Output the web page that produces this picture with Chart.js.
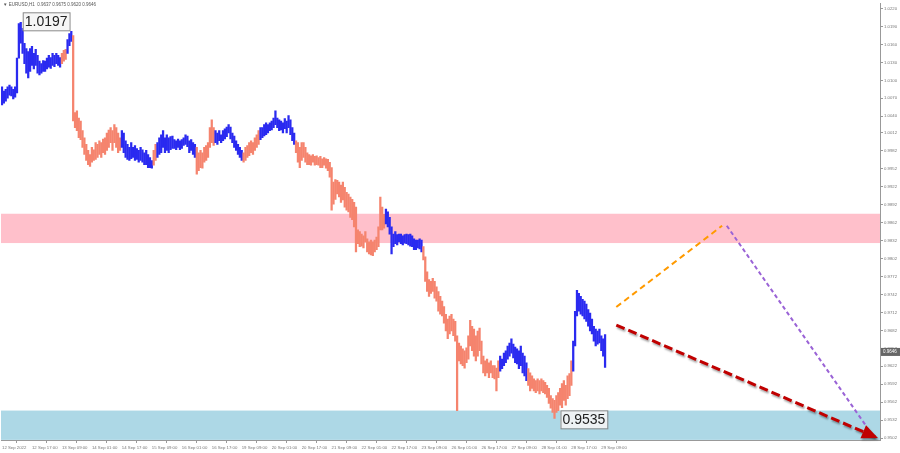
<!DOCTYPE html>
<html>
<head>
<meta charset="utf-8">
<script src="https://cdn.jsdelivr.net/npm/chart.js@4"></script>
<style>
  html, body { margin: 0; background: #fff; }
  #wrap { width: 900px; height: 453px; }
</style>
</head>
<body>
<div id="wrap"><canvas id="chart"></canvas></div>
<script>
// EURUSD H1, 12 Sep 2022 01:00 .. 29 Sep 2022 11:00 (one entry per hour bar)
const barHigh = [
  1.0089,1.0082,1.0085,1.0089,1.0092,1.0089,1.0085,1.0089,1.0137,1.0195,1.0197,1.0187,1.0162,1.0153,1.0148,1.0153,
  1.0157,1.0145,1.0152,1.0142,1.0132,1.0128,1.0133,1.0132,1.0137,1.0142,1.0138,1.0145,1.0142,1.0145,1.0142,1.0138,
  1.0145,1.0150,1.0152,1.0168,1.0178,1.0182,1.0175,1.0046,1.0049,1.0037,1.0032,1.0016,1.0004,0.9993,0.9983,0.9976,
  0.9988,0.9984,0.9996,0.9993,0.9999,0.9996,1.0002,1.0004,1.0012,1.0017,1.0021,1.0016,1.0026,1.0021,1.0012,1.0004,
  1.0016,1.0012,0.9999,0.9993,0.9988,0.9996,0.9988,0.9991,0.9986,0.9983,0.9988,0.9984,0.9979,0.9983,0.9976,0.9971,
  0.9966,0.9983,0.9993,0.9996,1.0004,1.0009,1.0016,1.0004,1.0009,1.0004,1.0006,1.0007,1.0001,0.9999,1.0002,0.9999,
  1.0001,1.0004,1.0009,1.0007,0.9999,1.0001,0.9996,0.9993,0.9988,0.9979,0.9983,0.9979,0.9988,0.9991,0.9996,1.0021,
  1.0034,1.0021,1.0016,1.0012,1.0016,1.0009,1.0016,1.0019,1.0022,1.0026,1.0022,1.0012,1.0007,0.9999,0.9993,0.9988,
  0.9983,0.9979,0.9988,0.9991,0.9996,0.9999,0.9996,1.0004,1.0009,1.0016,1.0021,1.0021,1.0026,1.0029,1.0026,1.0029,
  1.0032,1.0037,1.0049,1.0037,1.0034,1.0032,1.0029,1.0036,1.0032,1.0041,1.0034,1.0021,1.0012,0.9999,0.9996,0.9988,
  0.9996,0.9996,0.9988,0.9979,0.9976,0.9974,0.9976,0.9973,0.9974,0.9971,0.9973,0.9969,0.9971,0.9969,0.9968,0.9963,
  0.9954,0.9930,0.9934,0.9933,0.9930,0.9925,0.9930,0.9921,0.9913,0.9910,0.9905,0.9901,0.9896,0.9888,0.9850,0.9847,
  0.9843,0.9840,0.9847,0.9835,0.9830,0.9833,0.9830,0.9833,0.9838,0.9855,0.9905,0.9888,0.9876,0.9885,0.9880,0.9871,
  0.9855,0.9843,0.9847,0.9842,0.9843,0.9843,0.9840,0.9842,0.9843,0.9842,0.9843,0.9840,0.9835,0.9833,0.9833,0.9835,
  0.9833,0.9822,0.9805,0.9780,0.9767,0.9764,0.9769,0.9764,0.9755,0.9747,0.9739,0.9731,0.9722,0.9709,0.9701,0.9706,
  0.9709,0.9701,0.9697,0.9673,0.9661,0.9656,0.9651,0.9648,0.9653,0.9673,0.9699,0.9689,0.9684,0.9673,0.9681,0.9686,
  0.9664,0.9639,0.9631,0.9634,0.9628,0.9631,0.9623,0.9623,0.9619,0.9631,0.9639,0.9634,0.9644,0.9648,0.9656,0.9661,
  0.9668,0.9659,0.9654,0.9651,0.9648,0.9656,0.9644,0.9639,0.9628,0.9618,0.9611,0.9606,0.9601,0.9598,0.9601,0.9598,
  0.9601,0.9598,0.9595,0.9590,0.9585,0.9573,0.9568,0.9565,0.9573,0.9578,0.9585,0.9593,0.9598,0.9590,0.9606,0.9610,
  0.9631,0.9664,0.9714,0.9749,0.9744,0.9739,0.9734,0.9731,0.9726,0.9717,0.9711,0.9701,0.9689,0.9684,0.9681,0.9684,
  0.9673,0.9668,0.9675
];
const barLow = [
  1.0059,1.0062,1.0065,1.0070,1.0075,1.0074,1.0069,1.0072,1.0079,1.0137,1.0162,1.0145,1.0128,1.0112,1.0104,1.0115,
  1.0125,1.0119,1.0125,1.0112,1.0109,1.0112,1.0115,1.0115,1.0119,1.0122,1.0120,1.0125,1.0123,1.0128,1.0125,1.0122,
  1.0128,1.0132,1.0135,1.0145,1.0158,1.0165,1.0032,1.0021,1.0016,1.0004,1.0001,0.9988,0.9976,0.9966,0.9959,0.9956,
  0.9963,0.9966,0.9968,0.9971,0.9976,0.9971,0.9979,0.9976,0.9983,0.9988,0.9996,0.9983,0.9996,0.9988,0.9979,0.9983,
  0.9988,0.9979,0.9971,0.9968,0.9966,0.9969,0.9971,0.9966,0.9968,0.9963,0.9966,0.9963,0.9959,0.9959,0.9954,0.9954,
  0.9953,0.9958,0.9966,0.9971,0.9976,0.9979,0.9988,0.9979,0.9983,0.9979,0.9984,0.9986,0.9986,0.9984,0.9988,0.9984,
  0.9986,0.9991,0.9993,0.9989,0.9979,0.9983,0.9976,0.9971,0.9943,0.9949,0.9954,0.9953,0.9963,0.9966,0.9971,0.9988,
  0.9996,0.9991,0.9996,0.9993,0.9999,0.9996,0.9999,1.0002,1.0006,1.0012,1.0002,0.9996,0.9988,0.9983,0.9976,0.9971,
  0.9966,0.9963,0.9966,0.9971,0.9974,0.9979,0.9976,0.9983,0.9988,0.9993,1.0001,1.0004,1.0007,1.0009,1.0012,1.0016,
  1.0017,1.0021,1.0026,1.0021,1.0016,1.0017,1.0012,1.0019,1.0012,1.0021,1.0009,0.9999,0.9993,0.9979,0.9963,0.9954,
  0.9966,0.9971,0.9963,0.9959,0.9959,0.9958,0.9963,0.9958,0.9959,0.9958,0.9954,0.9954,0.9958,0.9953,0.9949,0.9938,
  0.9883,0.9893,0.9901,0.9910,0.9905,0.9896,0.9900,0.9888,0.9883,0.9880,0.9871,0.9867,0.9855,0.9813,0.9827,0.9822,
  0.9823,0.9820,0.9830,0.9813,0.9810,0.9808,0.9807,0.9813,0.9817,0.9822,0.9850,0.9850,0.9853,0.9860,0.9855,0.9843,
  0.9810,0.9822,0.9827,0.9825,0.9830,0.9827,0.9825,0.9828,0.9827,0.9825,0.9823,0.9822,0.9817,0.9817,0.9820,0.9818,
  0.9813,0.9800,0.9764,0.9747,0.9739,0.9744,0.9747,0.9736,0.9731,0.9714,0.9709,0.9706,0.9694,0.9681,0.9668,0.9676,
  0.9681,0.9673,0.9664,0.9548,0.9631,0.9626,0.9623,0.9619,0.9628,0.9634,0.9656,0.9648,0.9639,0.9631,0.9639,0.9648,
  0.9626,0.9611,0.9606,0.9611,0.9603,0.9611,0.9603,0.9601,0.9581,0.9603,0.9614,0.9618,0.9623,0.9628,0.9634,0.9639,
  0.9644,0.9636,0.9628,0.9626,0.9618,0.9623,0.9611,0.9606,0.9598,0.9590,0.9581,0.9585,0.9581,0.9578,0.9581,0.9576,
  0.9581,0.9578,0.9576,0.9570,0.9560,0.9552,0.9545,0.9535,0.9545,0.9548,0.9557,0.9553,0.9565,0.9557,0.9568,0.9573,
  0.9590,0.9614,0.9656,0.9706,0.9714,0.9709,0.9706,0.9701,0.9697,0.9689,0.9681,0.9676,0.9664,0.9656,0.9659,0.9661,
  0.9648,0.9639,0.9620
];

// wave segments: bar index where each wave starts, alternating up / down
const waveStarts = [0, 32, 35, 38, 64, 81, 83, 104, 114, 129, 138, 157, 205, 225, 266, 281, 305];

// last bar: open, high, low, close
const lastBar = [0.9637, 0.9675, 0.9620, 0.9646];

// zones
const resistZone = [0.9828, 0.9877];
const supportZone = [0.9499, 0.9548];

// forecast paths (bar index, price)
const upPathX = [328, 384.5];
const upPathY = [0.9721, 0.9857];
const downPathX = [387, 460.8];
const downPathY = [0.9857, 0.9525];
const mainPathX = [328, 467.7];
const mainPathY = [0.9691, 0.9502];

// axis labels
const timeLabels = ['12 Sep 2022', '12 Sep 17:00', '13 Sep 09:00', '14 Sep 01:00', '14 Sep 17:00', '15 Sep 09:00',
  '16 Sep 01:00', '16 Sep 17:00', '19 Sep 09:00', '20 Sep 01:00', '20 Sep 17:00', '21 Sep 09:00', '22 Sep 01:00',
  '22 Sep 17:00', '23 Sep 09:00', '26 Sep 01:00', '26 Sep 17:00', '27 Sep 09:00', '28 Sep 01:00', '28 Sep 17:00',
  '29 Sep 09:00'];
const labelStep = 16;
const priceTicks = [1.0220, 1.0190, 1.0160, 1.0130, 1.0100, 1.0070, 1.0040, 1.0012, 0.9982, 0.9952, 0.9922, 0.9892,
  0.9862, 0.9832, 0.9802, 0.9772, 0.9742, 0.9712, 0.9682, 0.9652, 0.9622, 0.9592, 0.9562, 0.9532, 0.9502];

const UP = '#2a2af0';
const DOWN = '#f5846e';
const SMALL = { family: '"Liberation Sans", Arial, sans-serif', size: 4.3 };

function waveColor(i) {
  let k = 0;
  while (k + 1 < waveStarts.length && waveStarts[k + 1] <= i) k++;
  return k % 2 === 0 ? UP : DOWN;
}

const toXY = (xs, ys) => xs.map((x, i) => ({ x: x, y: ys[i] }));

const overlay = {
  id: 'overlay',
  beforeDatasetsDraw(chart) {
    const { ctx, chartArea: a, scales: { y } } = chart;
    ctx.save();
    ctx.fillStyle = '#ffc0cb';
    let t = y.getPixelForValue(resistZone[1]), b = y.getPixelForValue(resistZone[0]);
    ctx.fillRect(a.left, t, a.right - a.left, b - t);
    ctx.fillStyle = '#add8e6';
    t = y.getPixelForValue(supportZone[1]); b = y.getPixelForValue(supportZone[0]);
    ctx.fillRect(a.left, t, a.right - a.left, b - t);
    ctx.restore();
  },
  beforeDatasetDraw(chart, args) {
    if (args.index !== 3) return;
    const ctx = chart.ctx;
    ctx.save();
    ctx.shadowColor = 'rgba(0,0,0,0.35)';
    ctx.shadowOffsetX = 1;
    ctx.shadowOffsetY = 2;
    ctx.shadowBlur = 2;
  },
  afterDatasetDraw(chart, args) {
    if (args.index !== 3) return;
    const { ctx } = chart;
    // arrow head on main path
    const pts = args.meta.data;
    const p0 = pts[0], p1 = pts[pts.length - 1];
    const ang = Math.atan2(p1.y - p0.y, p1.x - p0.x);
    ctx.translate(p1.x, p1.y);
    ctx.rotate(ang);
    ctx.fillStyle = '#c00000';
    ctx.beginPath();
    ctx.moveTo(0, 0);
    ctx.lineTo(-16, -7);
    ctx.lineTo(-16, 7);
    ctx.closePath();
    ctx.fill();
    ctx.restore();
  },
  afterDatasetsDraw(chart) {
    const { ctx, scales: { x, y } } = chart;
    // extreme labels
    let iMax = 0, iMin = 0;
    barHigh.forEach((v, i) => { if (v > barHigh[iMax]) iMax = i; });
    barLow.forEach((v, i) => { if (v < barLow[iMin]) iMin = i; });
    const box = (txt, left, cy) => {
      ctx.save();
      ctx.font = '14px "Liberation Sans", Arial, sans-serif';
      const w = ctx.measureText(txt).width + 4;
      ctx.fillStyle = 'rgba(245,245,245,0.9)';
      ctx.fillRect(left, cy - 9, w, 18);
      ctx.strokeStyle = '#8a8a8a';
      ctx.lineWidth = 1;
      ctx.strokeRect(left + 0.5, cy - 9 + 0.5, w, 18);
      ctx.fillStyle = '#222';
      ctx.textBaseline = 'middle';
      ctx.fillText(txt, left + 2, cy + 1);
      ctx.restore();
    };
    box(barHigh[iMax].toFixed(4), x.getPixelForValue(iMax) + 2, y.getPixelForValue(barHigh[iMax]) - 1);
    box(barLow[iMin].toFixed(4), x.getPixelForValue(iMin) + 6, y.getPixelForValue(barLow[iMin]) + 1);
  },
  afterDraw(chart) {
    const { ctx, chartArea: a, scales: { y } } = chart;
    ctx.save();
    ctx.font = '4.5px "Liberation Sans", Arial, sans-serif';
    ctx.fillStyle = '#555';
    ctx.textBaseline = 'middle';
    ctx.fillText('\u25BC EURUSD,H1  ' + lastBar.map(v => v.toFixed(4)).join(' '), 3, 5);
    // current price marker
    const cy = y.getPixelForValue(lastBar[3]);
    ctx.fillStyle = '#666';
    ctx.fillRect(a.right + 1, cy - 4, 19, 8);
    ctx.fillStyle = '#fff';
    ctx.fillText(lastBar[3].toFixed(4), a.right + 3, cy);
    ctx.restore();
  }
};

new Chart(document.getElementById('chart'), {
  data: {
    datasets: [
      {
        type: 'bar',
        data: barHigh.map((h, i) => ({ x: i, y: [barLow[i], h] })),
        backgroundColor: c => waveColor(c.dataIndex),
        barThickness: 1.6,
        borderWidth: 0
      },
      {
        type: 'line',
        data: toXY(upPathX, upPathY),
        borderColor: '#ff9a00',
        borderWidth: 2,
        borderDash: [6, 4],
        pointRadius: 0
      },
      {
        type: 'line',
        data: toXY(downPathX, downPathY),
        borderColor: '#9a63d6',
        borderWidth: 2,
        borderDash: [4, 3],
        pointRadius: 0
      },
      {
        type: 'line',
        data: toXY(mainPathX, mainPathY),
        borderColor: '#c00000',
        borderWidth: 3,
        borderDash: [9, 4],
        pointRadius: 0
      }
    ]
  },
  options: {
    responsive: true,
    maintainAspectRatio: false,
    animation: false,
    layout: { padding: 0 },
    plugins: { legend: { display: false }, tooltip: { enabled: false } },
    scales: {
      x: {
        type: 'linear',
        min: -0.53,
        max: 468.8,
        offset: false,
        grid: { drawOnChartArea: false, tickLength: 3, color: '#999' },
        border: { color: '#999' },
        afterBuildTicks: s => { s.ticks = timeLabels.map((_, k) => ({ value: k * labelStep })); },
        afterFit: s => { s.height = 13; },
        ticks: {
          align: 'start',
          autoSkip: false,
          maxRotation: 0,
          padding: 2,
          color: '#777',
          font: SMALL,
          callback: v => timeLabels[Math.round(v / labelStep)]
        }
      },
      y: {
        position: 'right',
        min: 0.94988,
        max: 1.02283,
        grid: { drawOnChartArea: false, tickLength: 3, color: '#999' },
        border: { color: '#999' },
        afterBuildTicks: s => { s.ticks = priceTicks.map(v => ({ value: v })); },
        afterFit: s => { s.width = 20; },
        ticks: {
          padding: 1,
          color: '#777',
          font: SMALL,
          callback: v => v.toFixed(4)
        }
      }
    }
  },
  plugins: [overlay]
});
</script>
</body>
</html>
